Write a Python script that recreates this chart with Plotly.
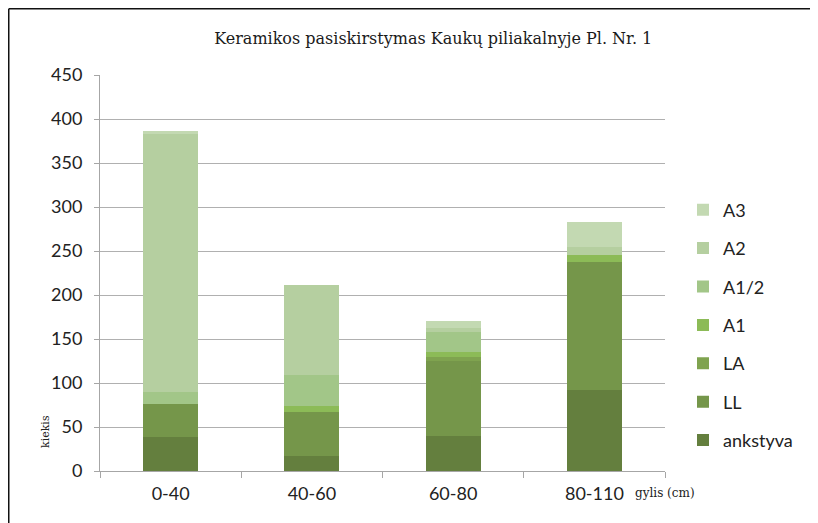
import plotly.graph_objects as go

categories = ["0-40", "40-60", "60-80", "80-110"]
series_names = ["ankstyva", "LL", "LA", "A1", "A1/2", "A2", "A3"]
ankstyva = [39, 17, 40, 92]
LL = [37, 50, 85, 146]
LA = [0, 0, 5, 0]
A1 = [0, 7, 5, 7]
A1_2 = [14, 35, 23, 0]
A2 = [293, 102, 4, 10]
A3 = [3, 0, 8, 28]
y_ticks = [0, 50, 100, 150, 200, 250, 300, 350, 400, 450]

values = [ankstyva, LL, LA, A1, A1_2, A2, A3]
colors = ["#647f3e", "#75964a", "#7fa34f", "#8cbb57", "#a2c688", "#b5cfa0", "#c3d9b2"]

# page is rendered with an 8px body margin
W, H = 810, 515
L, T, PW, PH = 92, 67, 565, 396
B = T + PH


def px(xp):  # figure px -> paper x
    return (xp - L) / PW


def py(yp):  # figure px -> paper y
    return (B - yp) / PH


fig = go.Figure()
n = len(series_names)
for i, (name, vals, col) in enumerate(zip(series_names, values, colors)):
    fig.add_trace(go.Bar(
        x=categories, y=vals, name=name, legendgroup=name,
        legendrank=1000 + (n - i),
        marker=dict(color=col, line=dict(width=0)),
    ))

fig.update_layout(
    width=W, height=H,
    barmode="stack", bargap=0.61,
    paper_bgcolor="white", plot_bgcolor="white",
    margin=dict(l=L, r=W - L - PW, t=T, b=H - B),
    title=dict(text="Keramikos pasiskirstymas Kaukų piliakalnyje Pl. Nr. 1",
               x=0.525, xanchor="center", y=1 - 30 / H, yanchor="middle",
               font=dict(family="DejaVu Serif", size=16, color="#1a1a1a")),
    font=dict(family="Lato", size=18, color="#333"),
    legend=dict(x=px(675), xanchor="left", y=py(317), yanchor="middle",
                traceorder="grouped", tracegroupgap=12,
                font=dict(family="Lato", size=18, color="#222"),
                itemwidth=30),
    showlegend=True,
    xaxis=dict(showgrid=False, showline=True, linecolor="#a6a6a6", linewidth=1,
               ticks="outside", tickson="boundaries", ticklen=6, tickcolor="#a6a6a6",
               ticklabelstandoff=6,
               tickfont=dict(family="Lato", size=18, color="#222")),
    yaxis=dict(range=[0, 450], tickvals=y_ticks, showgrid=True, gridcolor="#b0b0b0",
               gridwidth=1, showline=True, linecolor="#a6a6a6", linewidth=1,
               ticks="outside", ticklen=5, tickcolor="#a6a6a6", zeroline=False,
               ticklabelstandoff=8,
               tickfont=dict(family="Lato", size=18, color="#222")),
    annotations=[
        dict(text="kiekis", xref="paper", yref="paper", x=px(37), y=py(424),
             showarrow=False, textangle=-90, xanchor="center", yanchor="middle",
             font=dict(family="DejaVu Serif", size=11, color="#222")),
        dict(text="gylis (cm)", xref="paper", yref="paper", x=px(625), y=py(485),
             showarrow=False, xanchor="left", yanchor="middle",
             font=dict(family="DejaVu Serif", size=12, color="#222")),
    ],
    shapes=[
        dict(type="line", xref="paper", yref="paper", x0=px(0.75), x1=px(0.75),
             y0=py(0.75), y1=py(H), line=dict(color="#111", width=1.5)),
        dict(type="line", xref="paper", yref="paper", x0=px(0.75), x1=px(804),
             y0=py(0.75), y1=py(0.75), line=dict(color="#111", width=1.5)),
        dict(type="line", xref="paper", yref="paper", x0=px(804), x1=px(804),
             y0=py(0.75), y1=py(H), line=dict(color="#111", width=1.5)),
    ],
)

fig.write_html("out.html")
